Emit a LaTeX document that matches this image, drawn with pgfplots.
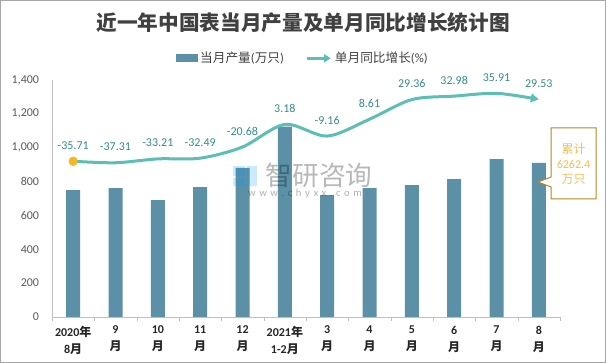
\documentclass[border=0pt]{standalone}
\usepackage{pgfplots}
\pgfplotsset{compat=1.18}
\usetikzlibrary{arrows.meta}
\usepackage{fontspec}
\setmainfont{Carlito}
\newfontfamily\cjk{Noto Sans CJK SC}
\definecolor{barcol}{RGB}{91,144,166}
\definecolor{linecol}{RGB}{92,190,180}
\definecolor{labcol}{RGB}{52,138,140}
\definecolor{axcol}{RGB}{191,191,191}
\definecolor{tickcol}{RGB}{89,89,89}
\definecolor{orangept}{RGB}{245,182,35}
\definecolor{callbord}{RGB}{184,134,30}
\definecolor{calltext}{RGB}{247,190,80}
\definecolor{framecol}{RGB}{166,166,166}
\definecolor{titlecol}{RGB}{64,64,64}
\pgfplotstableread{
x y lab
0 -35.71 -35.71
1 -37.31 -37.31
2 -33.21 -33.21
3 -32.49 -32.49
4 -20.68 -20.68
5 3.18 3.18
6 -9.16 -9.16
7 8.61 8.61
8 29.36 29.36
9 32.98 32.98
10 35.91 35.91
11 29.53 29.53
}\growth
\begin{document}
\begin{tikzpicture}
\begin{scope}[x=0.75pt,y=-0.75pt,shift={(0pt,272.25pt)}]
\path[use as bounding box] (0,0) rectangle (606,363);
\draw[framecol,line width=0.75pt] (0.5,0.5) rectangle (605.5,362.5);
\node[font=\cjk\bfseries\fontsize{15.5}{18}\selectfont,text=titlecol] at (303,22.7) {近一年中国表当月产量及单月同比增长统计图};
\end{scope}
\begin{axis}[
  at={(39pt,34.5pt)}, anchor=south west,
  scale only axis, width=381pt, height=177.75pt,
  xmin=-0.5, xmax=11.5, ymin=0, ymax=1400,
  axis x line*=bottom, axis y line*=left,
  axis line style={draw=axcol,-},
  tick align=outside,
  major tick length=0pt, minor tick length=3pt,
  ytick={0,200,...,1400},
  yticklabel style={font=\fontsize{9}{10}\selectfont,text=tickcol,anchor=east,inner sep=0pt,xshift=-9.5pt},
  /pgf/number format/1000 sep={,},
  /pgf/number format/assume math mode=true,
  xtick={0,...,11},
  minor xtick={-0.5,0.5,...,11.5},
  minor x tick style={draw=axcol},
  xticklabels={{2020{\cjk 年}\\8{\cjk 月}},{9\\{\cjk 月}},{10\\{\cjk 月}},{11\\{\cjk 月}},{12\\{\cjk 月}},{2021{\cjk 年}\\1-2{\cjk 月}},{3\\{\cjk 月}},{4\\{\cjk 月}},{5\\{\cjk 月}},{6\\{\cjk 月}},{7\\{\cjk 月}},{8\\{\cjk 月}}},
  xticklabel style={font=\bfseries\fontsize{9}{12.75}\selectfont,text={rgb,255:red,38;green,38;blue,38},align=center,anchor=north,inner sep=0pt,yshift=-6.5pt},
  legend style={at={(0.494,1.0916)},anchor=center,draw=none,fill=none,legend columns=2,font=\fontsize{9.5}{11}\selectfont,text={rgb,255:red,64;green,64;blue,64},/tikz/every even column/.append style={column sep=14pt}},
]
\addplot[ybar, bar width=10.5pt, fill=barcol, draw=none,
  legend image code/.code={\fill[barcol] (0pt,-2.9pt) rectangle (16.5pt,2.9pt);}]
  coordinates {(0,750) (1,761) (2,690) (3,767) (4,881) (5,1124) (6,720) (7,761) (8,779) (9,815) (10,933) (11,910)};
\addlegendentry{{\cjk 当月产量}({\cjk 万只})}
\addlegendimage{legend image code/.code={\draw[linecol,line width=2.25pt,-{Triangle[length=5pt,width=6pt]}] (0pt,0pt) -- (18pt,0pt);}}
\addlegendentry{{\cjk 单月同比增长}(\%)}
\end{axis}
\begin{axis}[
  at={(39pt,34.5pt)}, anchor=south west,
  scale only axis, width=381pt, height=177.75pt,
  xmin=-0.5, xmax=11.5, ymin=-200, ymax=50,
  axis lines=none, clip=false,
]
\addplot[linecol, line width=2.25pt, smooth, -{Triangle[length=6pt,width=6.5pt]},
  nodes near coords, point meta=explicit symbolic,
  every node near coord/.append style={font=\fontsize{9}{10}\selectfont,text=labcol,anchor=center,yshift=12pt}]
  table[x=x,y=y,meta=lab] {\growth};
\addplot[only marks, mark=*, mark size=3.25pt, mark options={fill=orangept,draw=orangept}] coordinates {(0,-35.71)};
\end{axis}
\begin{scope}[x=0.75pt,y=-0.75pt,shift={(0pt,272.25pt)}]
% watermark
\fill[blue!40!cyan,opacity=0.2] (233,166) rectangle (245,176);
\fill[blue!40!cyan,opacity=0.2] (247,166) rectangle (257,186);
\fill[blue!40!cyan,opacity=0.2] (233,178) rectangle (245,186);
\node[font=\cjk\fontsize{20}{22}\selectfont,text=black,opacity=0.28] at (319,175) {智研咨询};
\node[font=\fontsize{8}{9}\selectfont,text=black,opacity=0.3] at (305,194) {w\,\,w\,\,w\,\,.\,\,c\,\,h\,\,y\,\,x\,\,x\,\,.\,\,c\,\,o\,\,m};
% callout
\draw[callbord,line width=0.75pt,fill=white] (551,128) -- (596,128) -- (596,199) -- (551,199) -- (551,187) -- (538,182) -- (551,177) -- cycle;
\node[font=\fontsize{9}{11.25}\selectfont,text=calltext,align=center] at (573.5,164) {{\cjk 累计}\\6262.4\\{\cjk 万只}};
\end{scope}
\end{tikzpicture}
\end{document}
